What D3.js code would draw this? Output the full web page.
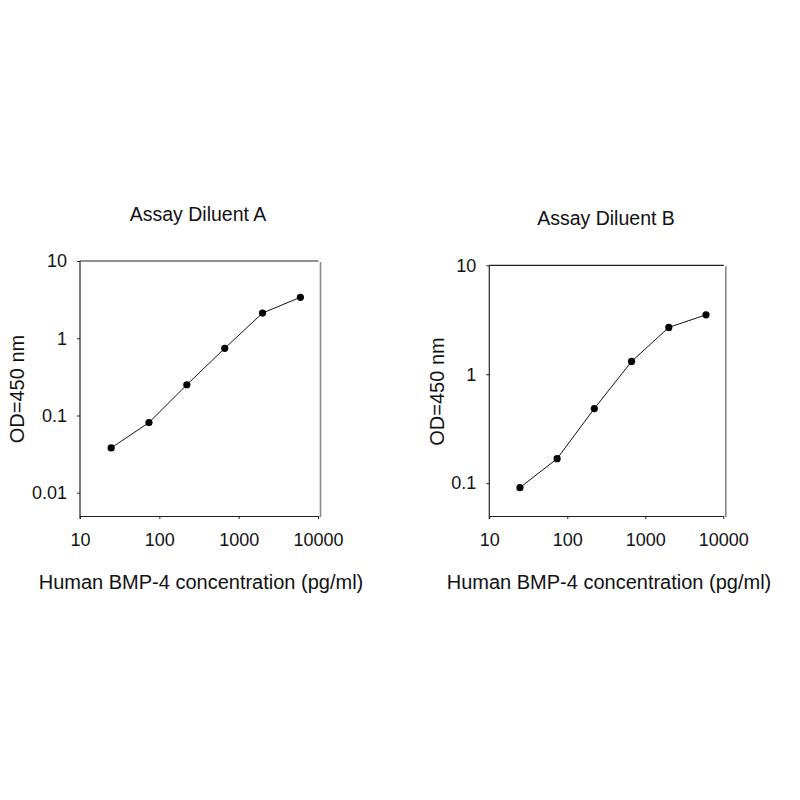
<!DOCTYPE html>
<html>
<head>
<meta charset="utf-8">
<script src="https://cdn.jsdelivr.net/npm/d3@7"></script>
<style>
  body { margin: 0; background: #fff; }
  text { font-family: "Liberation Sans", Arial, sans-serif; fill: #111; }
</style>
</head>
<body>
<div id="chart"></div>
<script>
// standard concentrations (pg/ml), 3-fold dilution series
const concentrations = [24.7, 74, 222, 667, 2000, 6000];
const odDiluentA = [0.038, 0.081, 0.25, 0.74, 2.12, 3.39];
const odDiluentB = [0.091, 0.168, 0.484, 1.31, 2.69, 3.51];
const xTicks = [10, 100, 1000, 10000];
const yTicksA = [0.01, 0.1, 1, 10];
const yTicksB = [0.1, 1, 10];
const titles = ["Assay Diluent A", "Assay Diluent B"];
const xLabel = "Human BMP-4 concentration (pg/ml)";
const yLabel = "OD=450 nm";

const width = 800, height = 800;

const svg = d3.select("#chart")
    .append("svg")
    .attr("width", width)
    .attr("height", height);

const panels = [
    { title: titles[0], od: odDiluentA, yTicks: yTicksA, yMin: 0.005,
      left: 80, right: 318, top: 261, bottom: 516,
      titleX: 198, titleY: 221, xlabX: 201, ylabX: 24, ylabY: 389 },
    { title: titles[1], od: odDiluentB, yTicks: yTicksB, yMin: 0.05,
      left: 489.3, right: 723.3, top: 265.3, bottom: 516,
      titleX: 606, titleY: 225, xlabX: 609, ylabX: 443.5, ylabY: 391.5 }
];

function drawPanel(p) {
    const x = d3.scaleLog().domain([10, 10000]).range([p.left, p.right]);
    const y = d3.scaleLog().domain([p.yMin, 10]).range([p.bottom, p.top]);
    const g = svg.append("g");

    // frame: dark top, grey right
    g.append("line")
        .attr("x1", p.left).attr("x2", p.right + 0.5)
        .attr("y1", p.top).attr("y2", p.top)
        .attr("stroke", "#222").attr("stroke-width", 1.2);
    g.append("line")
        .attr("x1", p.right + 2.5).attr("x2", p.right + 2.5)
        .attr("y1", p.top + 1).attr("y2", p.bottom + 1)
        .attr("stroke", "#888").attr("stroke-width", 1.6);

    const xAxis = g.append("g")
        .attr("transform", `translate(0,${p.bottom})`)
        .call(d3.axisBottom(x).tickValues(xTicks).tickFormat(d3.format("d"))
            .tickSizeInner(3).tickSizeOuter(0).tickPadding(14));
    const yAxis = g.append("g")
        .attr("transform", `translate(${p.left},0)`)
        .call(d3.axisLeft(y).tickValues(p.yTicks).tickFormat(d => String(d))
            .tickSizeInner(3).tickSizeOuter(0).tickPadding(10));

    [xAxis, yAxis].forEach(a => {
        a.select(".domain").attr("stroke", "#222").attr("stroke-width", 1.2);
        a.selectAll(".tick line").attr("stroke", "#222");
        a.selectAll("text")
            .attr("fill", "#111")
            .style("font-family", "'Liberation Sans', Arial, sans-serif")
            .style("font-size", "18px");
    });
    // y domain runs a bit past the bottom axis, as in the reference
    yAxis.select(".domain").attr("d", `M0,${p.top}V${p.bottom + 3}`);

    const line = d3.line()
        .x((d, i) => x(concentrations[i]))
        .y(d => y(d));

    g.append("path")
        .datum(p.od)
        .attr("d", line)
        .attr("fill", "none")
        .attr("stroke", "#111")
        .attr("stroke-width", 1);

    g.selectAll("circle")
        .data(p.od)
        .enter().append("circle")
        .attr("cx", (d, i) => x(concentrations[i]))
        .attr("cy", d => y(d))
        .attr("r", 3.6)
        .attr("fill", "#000");

    g.append("text")
        .attr("x", p.titleX).attr("y", p.titleY)
        .attr("text-anchor", "middle")
        .style("font-size", "19.5px")
        .text(p.title);

    g.append("text")
        .attr("x", p.xlabX).attr("y", 589)
        .attr("text-anchor", "middle")
        .style("font-size", "20px")
        .text(xLabel);

    g.append("text")
        .attr("transform", `translate(${p.ylabX},${p.ylabY}) rotate(-90)`)
        .attr("text-anchor", "middle")
        .style("font-size", "20px")
        .text(yLabel);
}

panels.forEach(drawPanel);
</script>
</body>
</html>
